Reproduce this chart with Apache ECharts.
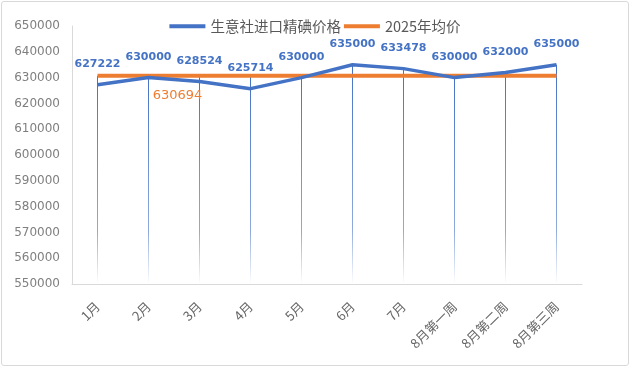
<!DOCTYPE html>
<html>
<head>
<meta charset="utf-8">
<script src="https://cdn.jsdelivr.net/npm/echarts@6/dist/echarts.min.js"></script>
<style>
  html, body { margin: 0; padding: 0; background: #fff; }
  #main { width: 630px; height: 376px; }
  #frame { position: absolute; left: 1px; top: 1px; width: 626px; height: 363px; border: 1px solid #d9d9d9; border-radius: 3px; pointer-events: none; }
</style>
</head>
<body>
<div id="main"></div>
<div id="frame"></div>
<script>
const categories = ['1月', '2月', '3月', '4月', '5月', '6月', '7月', '8月第一周', '8月第二周', '8月第三周'];
const prices = [627222, 630000, 628524, 625714, 630000, 635000, 633478, 630000, 632000, 635000];
const avgPrice = 630694;
const yTicks = { min: 550000, max: 650000, interval: 10000 };

const avgLine = categories.map(() => avgPrice);
// drop lines run from the higher of the two series down to the axis
const dropLines = prices.map((p, i) => Math.max(p, avgLine[i]));

const myChart = echarts.init(document.getElementById('main'));

const option = {
  backgroundColor: '#fff',
  animation: false,
  legend: {
    data: ['生意社进口精碘价格', '2025年均价'],
    top: 14,
    left: 'center',
    icon: 'rect',
    itemWidth: 36,
    itemHeight: 4,
    itemGap: 3,
    textStyle: { color: '#595959', fontSize: 14.5, fontFamily: 'Noto Sans CJK SC' }
  },
  grid: { left: 72, right: 48, top: 26, bottom: 92 },
  xAxis: {
    type: 'category',
    data: categories,
    axisLine: { lineStyle: { color: '#d9d9d9' } },
    axisTick: { show: false },
    axisLabel: {
      rotate: 45,
      color: '#666666',
      fontSize: 13,
      fontFamily: 'Noto Sans CJK SC',
      margin: 20
    }
  },
  yAxis: {
    type: 'value',
    min: yTicks.min,
    max: yTicks.max,
    interval: yTicks.interval,
    axisLine: { show: true, lineStyle: { color: '#d9d9d9' } },
    axisTick: { show: false },
    splitLine: { show: false },
    axisLabel: {
      color: '#7f7f7f',
      fontSize: 12,
      fontFamily: 'DejaVu Sans',
      margin: 12,
      formatter: (v) => String(v)
    }
  },
  series: [
    {
      name: 'drop',
      type: 'bar',
      data: dropLines,
      barWidth: 1,
      silent: true,
      itemStyle: {
        color: new echarts.graphic.LinearGradient(0, 0, 0, 1, [
          { offset: 0, color: '#4472C4' },
          { offset: 0.75, color: 'rgba(68,114,196,0.6)' },
          { offset: 1, color: 'rgba(68,114,196,0)' }
        ])
      }
    },
    {
      name: '2025年均价',
      type: 'line',
      data: avgLine,
      symbol: 'circle',
      symbolSize: 0,
      lineStyle: { color: '#ED7D31', width: 4 },
      itemStyle: { color: '#ED7D31' },
      label: {
        show: true,
        position: 'bottom',
        distance: 13,
        color: '#ED7D31',
        fontSize: 13,
        fontFamily: 'DejaVu Sans',
        offset: [29, 0],
        formatter: (p) => (p.dataIndex === 1 ? String(p.value) : '')
      }
    },
    {
      name: '生意社进口精碘价格',
      type: 'line',
      data: prices,
      symbol: 'circle',
      symbolSize: 0,
      lineStyle: { color: '#4472C4', width: 3.5 },
      itemStyle: { color: '#4472C4' },
      label: {
        show: true,
        position: 'top',
        distance: 15,
        color: '#4472C4',
        fontSize: 11,
        fontWeight: 'bold',
        fontFamily: 'DejaVu Sans'
      }
    }
  ]
};

myChart.setOption(option);
</script>
</body>
</html>
